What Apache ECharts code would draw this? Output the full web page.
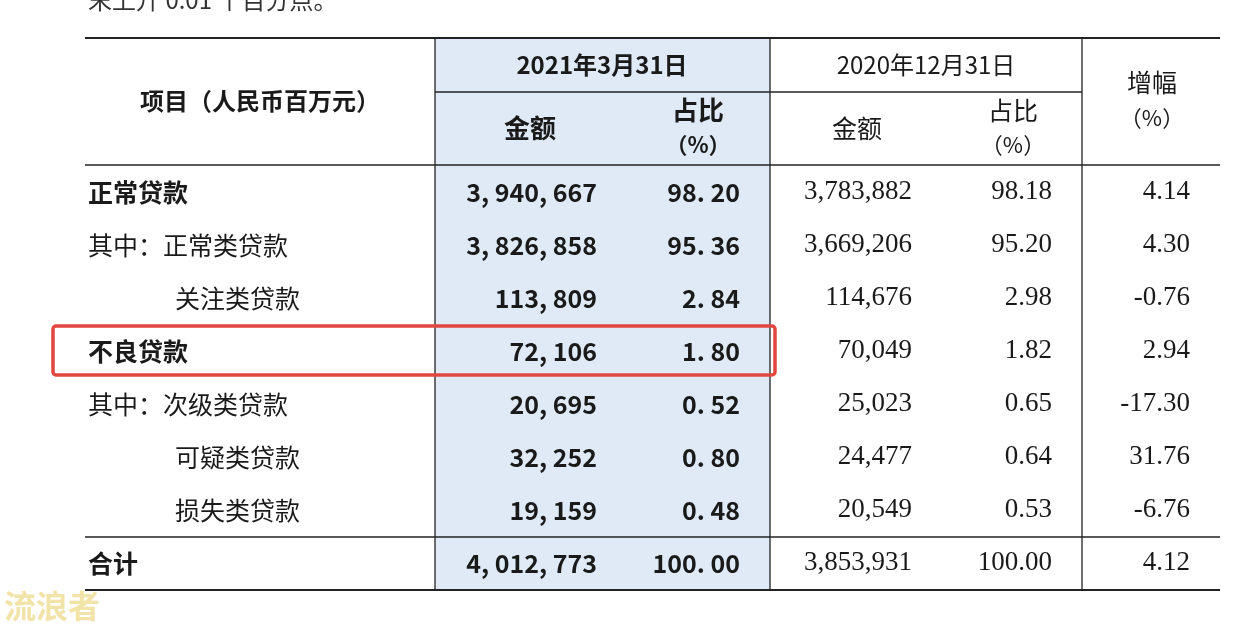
<!DOCTYPE html>
<html><head><meta charset="utf-8">
<script src="https://cdn.jsdelivr.net/npm/echarts@6/dist/echarts.min.js"></script>
<style>html,body{margin:0;background:#fff}#c{width:1258px;height:636px}</style>
</head><body><div id="c"></div>
<script>
const items = ['正常贷款','其中：正常类贷款','关注类贷款','不良贷款','其中：次级类贷款','可疑类贷款','损失类贷款','合计'];
const amt2021 = ['3, 940, 667','3, 826, 858','113, 809','72, 106','20, 695','32, 252','19, 159','4, 012, 773'];
const pct2021 = ['98. 20','95. 36','2. 84','1. 80','0. 52','0. 80','0. 48','100. 00'];
const amt2020 = ['3,783,882','3,669,206','114,676','70,049','25,023','24,477','20,549','3,853,931'];
const pct2020 = ['98.18','95.20','2.98','1.82','0.65','0.64','0.53','100.00'];
const growth = ['4.14','4.30','-0.76','2.94','-17.30','31.76','-6.76','4.12'];
const boldRows = [0,3,7];
const indentRows = [2,5,6];

const chart = echarts.init(document.getElementById('c'));
const L=85,R=1220,C1=435,C2=770,C3=1082,T=38,H1=92,H2=165,Tot=537,B=590;
const rowY = i => 192 + i*53 - (i==7?0:0);
const g = [];
const serif = '"Noto Sans CJK SC"';
const num = '"Liberation Serif"';
g.push({type:'rect',shape:{x:C1,y:T,width:C2-C1,height:B-T},style:{fill:'#dfeaf6'}});
const line=(x1,y1,x2,y2,w)=>g.push({type:'line',shape:{x1,y1,x2,y2},style:{stroke:'#222',lineWidth:w||1.3}});
line(L,T,R,T,2);line(C1,H1,C3,H1);line(L,H2,R,H2,1.6);line(L,Tot,R,Tot,1.6);line(L,B,R,B,2);
[C1,C2,C3].forEach(x=>line(x,T,x,B));
const txt=(s,x,y,align,font,size,weight,color)=>g.push({type:'text',x,y,style:{text:s,align:align||'left',verticalAlign:'middle',font:(weight||'normal')+' '+(size||25)+'px '+(font||serif),fill:color||'#1a1a1a'}});
txt('末上升 0.01 个百分点。',88,0,'left',serif,24,'normal','#333');
txt('项目（人民币百万元）',260,101,'center',serif,24,'bold');
txt('2021年3月31日',602,65,'center',serif,24,'bold');
txt('2020年12月31日',926,65,'center',serif,24);
txt('金额',530,128,'center',serif,26,'bold');
txt('占比',698,110,'center',serif,26,'bold');
txt('（%）',698,145,'center',serif,22,'bold');
txt('金额',857,128,'center',serif,25);
txt('占比',1013,110,'center',serif,25);
txt('（%）',1013,145,'center',serif,22);
txt('增幅',1152,82,'center',serif,25);
txt('（%）',1152,118,'center',serif,22);
items.forEach((s,i)=>{
  const y = i==7?563:rowY(i);
  const b = boldRows.includes(i);
  txt(s, indentRows.includes(i)?175:88, y,'left',serif,25,b?'bold':'normal');
  txt(amt2021[i],597,y,'right',serif,25,'bold');
  txt(pct2021[i],740,y,'right',serif,25,'bold');
  txt(amt2020[i],912,y,'right',num,27);
  txt(pct2020[i],1052,y,'right',num,27);
  txt(growth[i],1190,y,'right',num,27);
});
g.push({type:'rect',shape:{x:53,y:326,width:722,height:49,r:3},style:{fill:'none',stroke:'#e2473f',lineWidth:3.5}});
txt('流浪者',4,606,'left',serif,32,'bold','#f2e3a8');
chart.setOption({animation:false,graphic:g});
</script></body></html>
